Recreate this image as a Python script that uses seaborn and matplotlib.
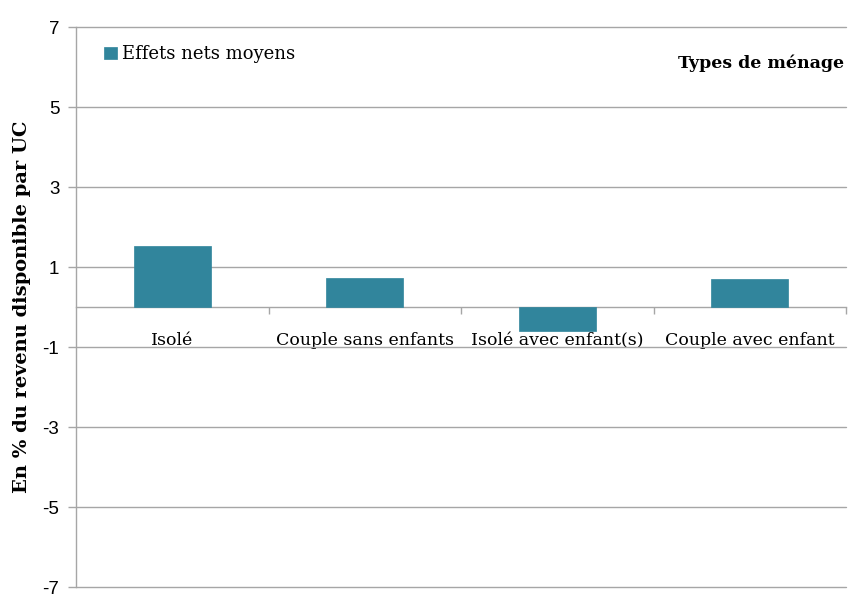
import numpy as np
import pandas as pd
import matplotlib
matplotlib.use("Agg")
import matplotlib.pyplot as plt
import seaborn as sns
from matplotlib.ticker import FixedLocator

# données
categories = ["Isolé", "Couple sans enfants", "Isolé avec enfant(s)", "Couple avec enfant"]
effets_nets = [1.52, 0.72, -0.59, 0.69]
y_ticks = [-7, -5, -3, -1, 1, 3, 5, 7]

df = pd.DataFrame({"menage": categories, "effet": effets_nets})

sns.set_theme(style="white")
plt.rcParams["font.family"] = ["DejaVu Serif"]
plt.rcParams["text.color"] = "black"
plt.rcParams["axes.labelcolor"] = "black"
plt.rcParams["xtick.labelcolor"] = "black"
plt.rcParams["ytick.labelcolor"] = "black"

couleur = "#31859C"
gris = "#A6A6A6"

fig = plt.figure(figsize=(8.5, 5.95), dpi=100)
ax = fig.add_axes([76 / 850, 8 / 595, 770 / 850, 560 / 595])

sns.barplot(data=df, x="menage", y="effet", color=couleur, width=0.4,
            saturation=1, ax=ax, label="Effets nets moyens", zorder=3,
            edgecolor=couleur, linewidth=0.5)

ax.set_ylim(-7, 7)
ax.set_xlim(-0.5, 3.5)
ax.set_yticks(y_ticks)
ax.set_yticklabels([str(v) for v in y_ticks], fontsize=13.5, family="Liberation Sans")
ax.yaxis.grid(True, color=gris, linewidth=1)
ax.set_axisbelow(True)
for ligne in ax.get_ygridlines():
    ligne.set_clip_on(False)

# axe horizontal placé à zéro
for nom in ["top", "right"]:
    ax.spines[nom].set_visible(False)
ax.spines["left"].set_color(gris)
ax.spines["bottom"].set_position(("data", 0))
ax.spines["bottom"].set_color(gris)
ax.spines["left"].set_linewidth(1)
ax.spines["bottom"].set_linewidth(1)

ax.tick_params(axis="y", length=6, color=gris, width=1, pad=6, left=True)
ax.tick_params(axis="x", which="major", length=0, pad=18, labelsize=12.5)
ax.xaxis.set_minor_locator(FixedLocator([0.5, 1.5, 2.5, 3.5]))
ax.tick_params(axis="x", which="minor", length=5, color=gris, width=1, bottom=True)
ax.set_xlabel("")

ax.set_ylabel("En % du revenu disponible par UC", fontsize=14,
              fontweight="bold", labelpad=8)

ax.text(0.998, 0.936, "Types de ménage", transform=ax.transAxes, ha="right",
        va="center", fontsize=12.5, fontweight="bold")

leg = ax.legend(loc="upper left", bbox_to_anchor=(0.02, 0.99), frameon=False,
                fontsize=13, handlelength=0.7, handleheight=0.7,
                handletextpad=0.3, borderaxespad=0.3)

fig.savefig("out.png", dpi=100)
